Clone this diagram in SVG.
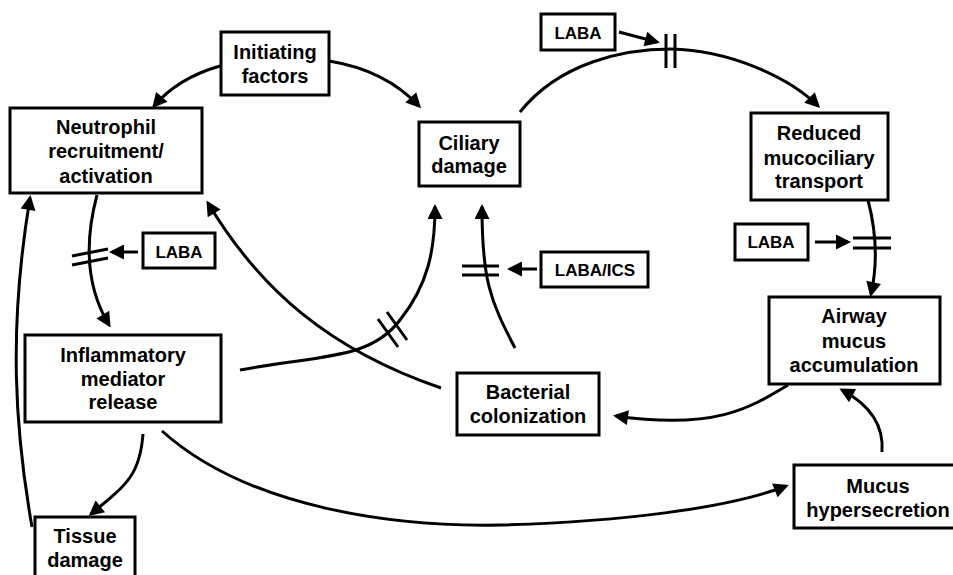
<svg xmlns="http://www.w3.org/2000/svg" width="953" height="575" viewBox="0 0 953 575">
<defs>
<style>
.box{fill:#fff;stroke:#000;stroke-width:3}
.t{font-family:"Liberation Sans",Arial,sans-serif;font-weight:bold;font-size:20px;text-anchor:middle;fill:#000}
.s{font-family:"Liberation Sans",Arial,sans-serif;font-weight:bold;font-size:17px;text-anchor:middle;fill:#000}
.c{fill:none;stroke:#000;stroke-width:3}
.bar{fill:none;stroke:#000;stroke-width:3}
</style>
<marker id="ah" viewBox="0 0 10 10" refX="8" refY="5" markerWidth="18" markerHeight="15" markerUnits="userSpaceOnUse" orient="auto">
<path d="M0,0 L10,5 L0,10 z" fill="#000"/>
</marker>
</defs>
<rect width="953" height="575" fill="#fff"/>
<g id="connectors">
<path class="c" d="M220,66 Q178,78 154,106" marker-end="url(#ah)"/>
<path class="c" d="M329,61 Q385,70 419,106" marker-end="url(#ah)"/>
<path class="c" d="M520,112 C560,62 625,49 671,49 C730,50 790,78 818,106" marker-end="url(#ah)"/>
<path class="c" d="M868,200 Q881,250 871,294" marker-end="url(#ah)"/>
<path class="c" d="M788,385 C750,408 715,430 616,416" marker-end="url(#ah)"/>
<path class="c" d="M882,452 Q885,413 842,390" marker-end="url(#ah)"/>
<path class="c" d="M162,431 C250,510 400,527 500,525 C620,522 730,508 786,486" marker-end="url(#ah)"/>
<path class="c" d="M143,434 C140,474 128,484 91,514" marker-end="url(#ah)"/>
<path class="c" d="M32,527 C15,430 8,330 30,198" marker-end="url(#ah)"/>
<path class="c" d="M97,195 C85,240 85,285 109,325" marker-end="url(#ah)"/>
<path class="c" d="M441,388 C330,350 260,290 208,203" marker-end="url(#ah)"/>
<path class="c" d="M240,370 C320,355 370,360 400,320 C428,285 435,250 435,207" marker-end="url(#ah)"/>
<path class="c" d="M515,348 C490,300 482,280 482,207" marker-end="url(#ah)"/>
<path class="c" d="M619,32 L657,42" marker-end="url(#ah)"/>
<path class="c" d="M815,242 L848,242" marker-end="url(#ah)"/>
<path class="c" d="M138,252 L112,252" marker-end="url(#ah)"/>
<path class="c" d="M537,269 L510,269" marker-end="url(#ah)"/>
<path class="bar" d="M666,34 L666,68 M675,34 L675,68"/>
<path class="bar" d="M853,238 L891,238 M853,248 L891,248"/>
<path class="bar" d="M72,256 L108,249 M72,265 L108,258"/>
<path class="bar" d="M462,266 L499,266 M462,275 L499,275"/>
<path class="bar" d="M378,319 L398,347 M387,312 L407,340"/>
</g>
<g id="initiating"><rect class="box" x="221" y="32" width="108" height="63"/><text class="t" x="275" y="59">Initiating</text><text class="t" x="275" y="83">factors</text></g>
<g id="neutrophil"><rect class="box" x="10" y="108" width="192" height="85"/><text class="t" x="106" y="134">Neutrophil</text><text class="t" x="106" y="158">recruitment/</text><text class="t" x="106" y="183">activation</text></g>
<g id="ciliary"><rect class="box" x="419" y="122" width="101" height="64"/><text class="t" x="469" y="150">Ciliary</text><text class="t" x="469" y="173">damage</text></g>
<g id="reduced"><rect class="box" x="751" y="113" width="137" height="87"/><text class="t" x="819" y="140">Reduced</text><text class="t" x="819" y="165">mucociliary</text><text class="t" x="819" y="188">transport</text></g>
<g id="airway"><rect class="box" x="769" y="297" width="171" height="87"/><text class="t" x="854" y="323">Airway</text><text class="t" x="854" y="348">mucus</text><text class="t" x="854" y="372">accumulation</text></g>
<g id="bacterial"><rect class="box" x="457" y="373" width="142" height="62"/><text class="t" x="528" y="399">Bacterial</text><text class="t" x="528" y="423">colonization</text></g>
<g id="mucus"><rect class="box" x="794" y="465" width="175" height="63"/><text class="t" x="878" y="493">Mucus</text><text class="t" x="878" y="517">hypersecretion</text></g>
<g id="inflammatory"><rect class="box" x="25" y="335" width="196" height="87"/><text class="t" x="123" y="362">Inflammatory</text><text class="t" x="123" y="386">mediator</text><text class="t" x="123" y="409">release</text></g>
<g id="tissue"><rect class="box" x="35" y="517" width="100" height="70"/><text class="t" x="85" y="543">Tissue</text><text class="t" x="85" y="567">damage</text></g>
<g id="laba-left"><rect class="box" x="143" y="233" width="72" height="35"/><text class="s" x="179" y="258">LABA</text></g>
<g id="laba-top"><rect class="box" x="541" y="14" width="74" height="36"/><text class="s" x="578" y="39">LABA</text></g>
<g id="laba-right"><rect class="box" x="735" y="224" width="73" height="36"/><text class="s" x="771" y="248">LABA</text></g>
<g id="laba-ics"><rect class="box" x="541" y="252" width="107" height="35"/><text class="s" x="595" y="276">LABA/ICS</text></g>
</svg>
